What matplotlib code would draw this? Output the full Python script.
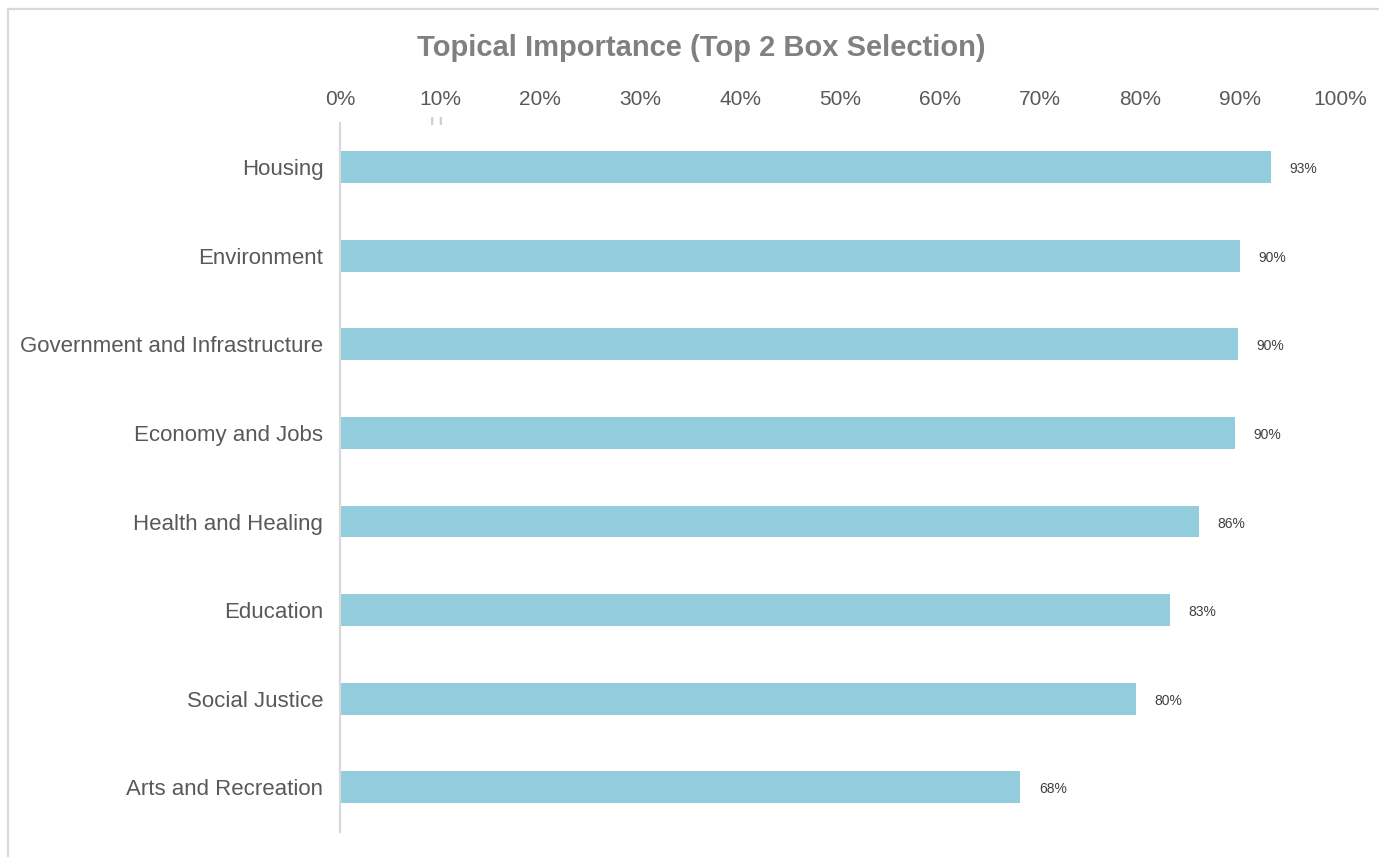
import matplotlib.pyplot as plt
from matplotlib.patches import Rectangle
from matplotlib.ticker import PercentFormatter

# topics, top to bottom
topics = ['Housing', 'Environment', 'Government and Infrastructure', 'Economy and Jobs',
          'Health and Healing', 'Education', 'Social Justice', 'Arts and Recreation']
shares = [0.931, 0.900, 0.898, 0.895, 0.859, 0.830, 0.796, 0.680]
x_ticks = [0, 0.1, 0.2, 0.3, 0.4, 0.5, 0.6, 0.7, 0.8, 0.9, 1.0]

plt.rcParams['font.family'] = ['Liberation Sans', 'DejaVu Sans']

fig = plt.figure(figsize=(13.79, 8.57), dpi=100)
ax = fig.add_axes([340 / 1379, 25.5 / 857, 1000 / 1379, 708.5 / 857])

pos = list(range(len(topics)))
ax.barh(pos, shares, height=0.36, color='#93CDDD')
ax.set_ylim(len(topics) - 0.5, -0.5)
ax.set_xlim(0, 1)
ax.set_yticks(pos)
ax.set_yticklabels(topics)
ax.set_xticks(x_ticks)
ax.xaxis.set_major_formatter(PercentFormatter(1.0, decimals=0))
ax.xaxis.tick_top()
ax.tick_params(axis='x', length=0, pad=10, labelsize=15, labelcolor='#595959')
ax.tick_params(axis='y', length=0, pad=12, labelsize=16, labelcolor='#595959')

for s in ['top', 'right', 'bottom']:
    ax.spines[s].set_visible(False)
ax.spines['left'].set_color('#d9d9d9')
ax.spines['left'].set_linewidth(1.6)

# data labels
for p, v in zip(pos, shares):
    ax.annotate(f'{round(v * 100):.0f}%', (v, p), xytext=(13.5, -1.5), textcoords='offset points',
                ha='left', va='center', fontsize=10, color='#404040')

fig.text(701 / 1379, 1 - 48 / 857, 'Topical Importance (Top 2 Box Selection)',
         ha='center', va='center', fontsize=21, fontweight='bold', color='#808080')

# small stray marks under the 10% label
fig.text(436 / 1379, 1 - 121 / 857, '\u0131 \u0131', ha='center', va='center',
         fontsize=11, fontweight='bold', color='#cccccc')

# chart frame (only top and left edges visible)
fig.patches.append(Rectangle((8 / 1379, -0.1), 1.2, 1 - 9 / 857 + 0.1, transform=fig.transFigure,
                             fill=False, edgecolor='#d9d9d9', linewidth=1.6, clip_on=False))

fig.savefig('out.png', dpi=100)
